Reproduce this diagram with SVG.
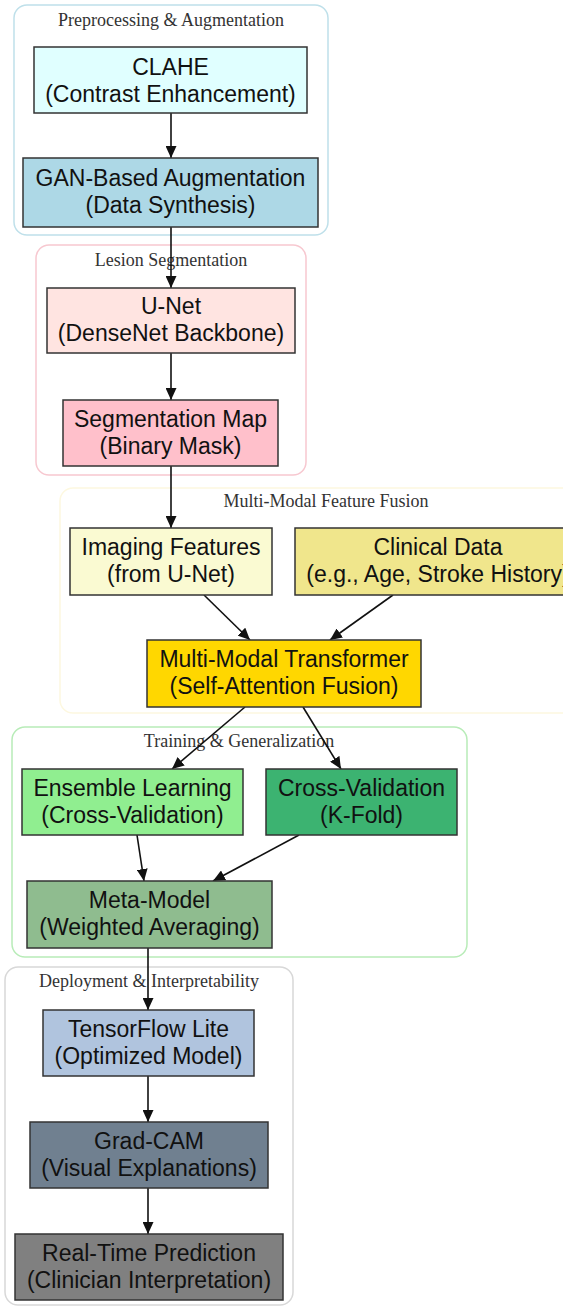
<svg xmlns="http://www.w3.org/2000/svg" width="563" height="1308" viewBox="0 0 563 1308">
<style>
.cl{fill:none;stroke-width:1.5}
.ct{font-family:"Liberation Serif","Times New Roman",serif;font-size:18px;fill:#333;text-anchor:middle}
.n{stroke:#333;stroke-width:1.5}
.t{font-family:"Liberation Sans",Arial,sans-serif;font-size:23px;fill:#111;text-anchor:middle}
.e{stroke:#111;stroke-width:1.6;fill:none;marker-end:url(#ah)}
</style>
<defs>
<marker id="ah" viewBox="0 0 12 11" refX="12" refY="5.5" markerWidth="12" markerHeight="11" markerUnits="userSpaceOnUse" orient="auto">
<path d="M0,0 L12,5.5 L0,11 z" fill="#111"/>
</marker>
</defs>
<rect width="563" height="1308" fill="#fff"/>
<g id="clusters">
<g id="cluster_pre"><rect class="cl" x="14" y="5" width="314" height="230" rx="13" stroke="#bfe0ea"/><text class="ct" x="171" y="26">Preprocessing &amp; Augmentation</text></g>
<g id="cluster_seg"><rect class="cl" x="36" y="245" width="270" height="230" rx="13" stroke="#f7c8d0"/><text class="ct" x="171" y="266">Lesion Segmentation</text></g>
<g id="cluster_fus"><rect class="cl" x="60" y="488" width="540" height="225" rx="13" stroke="#fdf8e0"/><text class="ct" x="326" y="507">Multi-Modal Feature Fusion</text></g>
<g id="cluster_train"><rect class="cl" x="12" y="727" width="455" height="230" rx="13" stroke="#b8ecb8"/><text class="ct" x="239" y="747">Training &amp; Generalization</text></g>
<g id="cluster_dep"><rect class="cl" x="5" y="967" width="288" height="338" rx="13" stroke="#d8d8d8"/><text class="ct" x="149" y="987">Deployment &amp; Interpretability</text></g>
</g>
<g id="edges">
<path class="e" d="M171,113 V158"/>
<path class="e" d="M171,227 V288"/>
<path class="e" d="M171,353 V400"/>
<path class="e" d="M171,466 V528"/>
<path class="e" d="M204,595 L250,640"/>
<path class="e" d="M393,595 L330,640"/>
<path class="e" d="M245,707 L172,769"/>
<path class="e" d="M303,707 L341,769"/>
<path class="e" d="M137,835 L144,881"/>
<path class="e" d="M299,835 L213,881"/>
<path class="e" d="M148,948 V1010"/>
<path class="e" d="M148,1076 V1122"/>
<path class="e" d="M148,1188 V1234"/>
</g>
<g id="clahe"><rect class="n" x="34" y="47" width="273" height="66" fill="#e0ffff"/><text class="t" x="170.5" y="75">CLAHE</text><text class="t" x="170.5" y="102">(Contrast Enhancement)</text></g>
<g id="gan"><rect class="n" x="23" y="158" width="295" height="69" fill="#add8e6"/><text class="t" x="170.5" y="186">GAN-Based Augmentation</text><text class="t" x="170.5" y="213">(Data Synthesis)</text></g>
<g id="unet"><rect class="n" x="47" y="288" width="248" height="65" fill="#ffe4e1"/><text class="t" x="171" y="314">U-Net</text><text class="t" x="171" y="341">(DenseNet Backbone)</text></g>
<g id="segmap"><rect class="n" x="63" y="400" width="215" height="66" fill="#ffc0cb"/><text class="t" x="170.5" y="427">Segmentation Map</text><text class="t" x="170.5" y="454">(Binary Mask)</text></g>
<g id="imaging"><rect class="n" x="70" y="528" width="202" height="67" fill="#fafad2"/><text class="t" x="171" y="555">Imaging Features</text><text class="t" x="171" y="582">(from U-Net)</text></g>
<g id="clinical"><rect class="n" x="295" y="528" width="290" height="67" fill="#f0e68c"/><text class="t" x="438" y="555">Clinical Data</text><text class="t" x="438" y="582">(e.g., Age, Stroke History)</text></g>
<g id="transformer"><rect class="n" x="147" y="640" width="274" height="67" fill="#ffd700"/><text class="t" x="284" y="667">Multi-Modal Transformer</text><text class="t" x="284" y="694">(Self-Attention Fusion)</text></g>
<g id="ensemble"><rect class="n" x="22" y="769" width="221" height="66" fill="#90ee90"/><text class="t" x="132.5" y="796">Ensemble Learning</text><text class="t" x="132.5" y="823">(Cross-Validation)</text></g>
<g id="crossval"><rect class="n" x="266" y="769" width="191" height="66" fill="#3cb371"/><text class="t" x="361.5" y="796">Cross-Validation</text><text class="t" x="361.5" y="823">(K-Fold)</text></g>
<g id="meta"><rect class="n" x="27" y="881" width="245" height="67" fill="#8fbc8f"/><text class="t" x="149.5" y="908">Meta-Model</text><text class="t" x="149.5" y="935">(Weighted Averaging)</text></g>
<g id="tflite"><rect class="n" x="43" y="1010" width="211" height="66" fill="#b0c4de"/><text class="t" x="148.5" y="1037">TensorFlow Lite</text><text class="t" x="148.5" y="1064">(Optimized Model)</text></g>
<g id="gradcam"><rect class="n" x="30" y="1122" width="238" height="66" fill="#708090"/><text class="t" x="149" y="1149">Grad-CAM</text><text class="t" x="149" y="1176">(Visual Explanations)</text></g>
<g id="realtime"><rect class="n" x="15" y="1234" width="268" height="66" fill="#808080"/><text class="t" x="149" y="1261">Real-Time Prediction</text><text class="t" x="149" y="1288">(Clinician Interpretation)</text></g>
</svg>
